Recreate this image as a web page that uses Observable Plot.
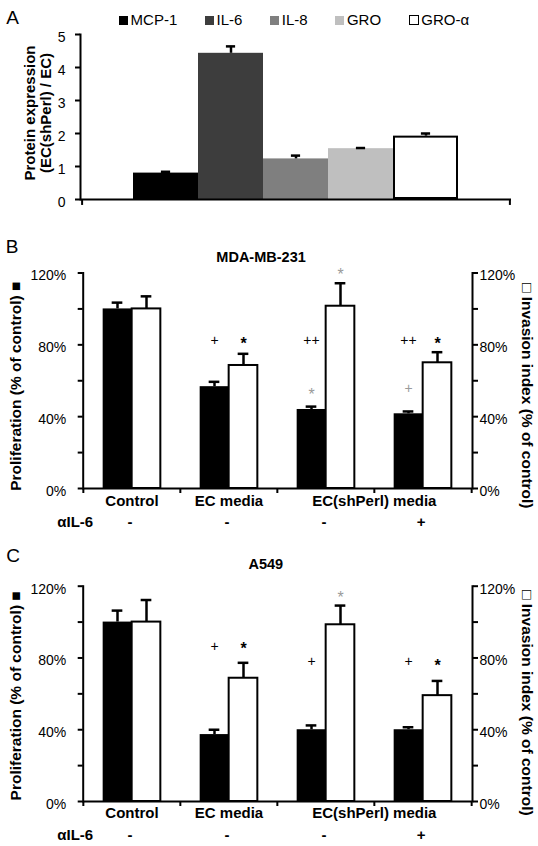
<!DOCTYPE html>
<html><head><meta charset="utf-8">
<script src="https://cdn.jsdelivr.net/npm/d3@7"></script>
<script src="https://cdn.jsdelivr.net/npm/@observablehq/plot@0.6"></script>
<style>
body{margin:0;background:#fff;}
#wrap{position:relative;width:538px;height:846px;background:#fff;font-family:'Liberation Sans',Arial,sans-serif;color:#000;overflow:hidden}
.panel{position:absolute;left:0}
#legend{position:absolute;left:118.8px;top:12px;height:16px;display:flex;align-items:center;gap:27.5px;font-size:15px;line-height:16px;white-space:nowrap}
.item{display:flex;align-items:center}
.sw{width:9px;height:9px;margin-right:2.8px;box-sizing:border-box}
</style></head><body><div id="wrap"></div>
<script>
// ---------- Panel A data ----------
const genes = ["MCP-1", "IL-6", "IL-8", "GRO", "GRO-α"];
const geneExpr = [0.80, 4.43, 1.23, 1.54, 1.92];
const geneErr = [0.04, 0.21, 0.10, 0.02, 0.08];
const geneFill = ["#000000", "#3d3d3d", "#7f7f7f", "#bfbfbf", "#ffffff"];
const yTicksA = [0, 1, 2, 3, 4, 5];

// ---------- Panels B & C shared ----------
const conditions = ["Control", "EC media", "EC(shPerl) media", "EC(shPerl) media + αIL-6"];
const conditionLabels = ["Control", "EC media", "EC(shPerl) media"];
const antiIL6 = ["-", "-", "-", "+"];
const pctTicks = [0, 20, 40, 60, 80, 100, 120];

// Panel B: MDA-MB-231
const prolifB = [100, 56.7, 44.0, 41.6];
const prolifErrB = [3.5, 2.7, 1.6, 1.3];
const invB = [100, 68.5, 101.5, 70.0];
const invErrB = [7.0, 6.5, 12.8, 5.9];
const markCondB = [1, 1, 2, 2, 2, 3, 3, 3];
const markBarB = ["P", "I", "P", "I", "P", "P", "I", "P"];
const markTextB = ["+", "*", "++", "*", "*", "++", "*", "+"];
const markYB = [82.2, 83, 82.4, 121, 54.2, 82.4, 83, 55.5];
const markToneB = ["k", "k", "k", "g", "g", "k", "k", "g"];

// Panel C: A549
const prolifC = [100, 37.3, 40.0, 40.0];
const prolifErrC = [6.4, 2.7, 2.4, 1.4];
const invC = [100, 68.7, 98.5, 59.0];
const invErrC = [12.3, 8.6, 10.7, 8.2];
const markCondC = [1, 1, 2, 2, 3, 3];
const markBarC = ["P", "I", "P", "I", "P", "I"];
const markTextC = ["+", "*", "+", "*", "+", "*"];
const markYC = [86.6, 87.5, 78, 115.8, 78, 78];
const markToneC = ["k", "k", "k", "g", "k", "k"];

const W = 538;
const FONT = "'Liberation Sans', Arial, sans-serif";
const baseStyle = {fontFamily: FONT, fontSize: "14px", color: "#000", background: "transparent", overflow: "visible"};
const GRAY = "#9a9a9a";
const wrap = document.getElementById("wrap");

function place(svg, top) {
  const d = document.createElement("div");
  d.className = "panel";
  d.style.top = top + "px";
  d.appendChild(svg);
  wrap.appendChild(d);
}

// ---------- Panel A ----------
{
  const ml = 80, mr = 27, pad = 0.775;
  const step = (W - ml - mr) / (genes.length + 2 * pad);
  const rows = genes.map((g, i) => ({gene: g, v: geneExpr[i], e: geneErr[i]}));
  const svgA = Plot.plot({
    width: W, height: 215, marginLeft: ml, marginRight: mr, marginTop: 34, marginBottom: 16,
    style: baseStyle,
    x: {domain: genes, paddingInner: 0, paddingOuter: pad, axis: null},
    y: {domain: [0, 5], axis: null},
    color: {domain: genes, range: geneFill},
    marks: [
      Plot.barY(rows, {x: "gene", y: "v", fill: "gene"}),
      Plot.barY(rows.filter(d => d.gene === "GRO-α"), {x: "gene", y: "v", fill: "none", stroke: "#000", strokeWidth: 2, inset: 1}),
      Plot.ruleX(rows, {x: "gene", y1: "v", y2: d => d.v + d.e, strokeWidth: 2.5}),
      Plot.tickY(rows, {x: "gene", y: d => d.v + d.e, inset: step / 2 - 5, strokeWidth: 2.5}),
      Plot.frame({anchor: "left", strokeWidth: 2}),
      Plot.ruleY([0], {strokeWidth: 2}),
      Plot.ruleX([genes[0]], {x: d => d, dx: -(0.5 + pad) * step, y1: 0, y2: -0.18, strokeWidth: 2}),
      Plot.ruleX([genes[genes.length - 1]], {x: d => d, dx: (0.5 + pad) * step, y1: 0, y2: -0.18, strokeWidth: 2}),
      Plot.axisY({ticks: yTicksA, tickSize: 5, strokeWidth: 2, fill: "none", label: null}),
      Plot.axisY({ticks: yTicksA, tickSize: 5, tickPadding: 10, stroke: "none", dy: 3, fontSize: 14, label: null, tickFormat: d => String(d)}),
      Plot.text(["Protein expression\n(EC(shPerl) / EC)"], {text: d => d, frameAnchor: "left", rotate: -90, textAnchor: "middle", lineAnchor: "middle", lineHeight: 1.1, dx: -43, dy: -4, fontWeight: "bold", fontSize: 15}),
      Plot.text(["A"], {text: d => d, frameAnchor: "top-left", textAnchor: "middle", lineAnchor: "middle", dx: -68, dy: -16.5, fontSize: 19})
    ]
  });
  place(svgA, 0);

  // legend built from the same arrays
  const lg = document.createElement("div");
  lg.id = "legend";
  genes.forEach((g, i) => {
    const it = document.createElement("div");
    it.className = "item";
    const sw = document.createElement("span");
    sw.className = "sw";
    sw.style.background = geneFill[i];
    if (geneFill[i] === "#ffffff") { sw.style.border = "1.6px solid #000"; sw.style.width = "10px"; sw.style.height = "10px"; }
    const tx = document.createElement("span");
    tx.textContent = g;
    it.appendChild(sw); it.appendChild(tx);
    lg.appendChild(it);
  });
  wrap.appendChild(lg);
}

// ---------- Panels B & C ----------
function groupedPanel(cfg) {
  const ml = 82.7, mr = 66;
  const band = (W - ml - mr) / conditions.length;
  const half = band / 2, barW = 29, cap = 5.5;
  const rows = conditions.map((c, i) => ({c, p: cfg.prolif[i], pe: cfg.prolifErr[i], v: cfg.inv[i], ve: cfg.invErr[i]}));
  const ann = cfg.mCond.map((k, i) => ({c: conditions[k], side: cfg.mBar[i], t: cfg.mText[i], y: cfg.mY[i], tone: cfg.mTone[i]}));
  const annMarks = ann.map(a => {
    const star = a.t === "*";
    return Plot.text([a], {
      x: "c", y: "y", text: "t",
      dx: (a.side === "P" ? -1 : 1) * barW / 2,
      dy: star ? 4 : 0,
      fill: a.tone === "g" ? GRAY : "#000",
      fontWeight: star && a.tone === "k" ? "bold" : "normal",
      fontSize: star ? 16 : 14,
      textAnchor: "middle", lineAnchor: "middle"
    });
  });
  const fmt = d => (d % 40 === 0 ? d + "%" : "");
  const svg = Plot.plot({
    width: W, height: cfg.height, marginLeft: ml, marginRight: mr, marginTop: cfg.mt, marginBottom: cfg.mb,
    style: baseStyle,
    x: {domain: conditions, padding: 0, axis: null},
    y: {domain: [0, 120], axis: null},
    marks: [
      Plot.barY(rows, {x: "c", y: "p", fill: "#000", insetLeft: half - barW, insetRight: half}),
      Plot.barY(rows, {x: "c", y: "v", fill: "#fff", stroke: "#000", strokeWidth: 2, insetLeft: half, insetRight: half - barW}),
      Plot.ruleX(rows, {x: "c", y1: "p", y2: d => d.p + d.pe, dx: -barW / 2, strokeWidth: 2.5}),
      Plot.tickY(rows, {x: "c", y: d => d.p + d.pe, insetLeft: half - barW / 2 - cap, insetRight: half + barW / 2 - cap, strokeWidth: 2.5}),
      Plot.ruleX(rows, {x: "c", y1: "v", y2: d => d.v + d.ve, dx: barW / 2, strokeWidth: 2.5}),
      Plot.tickY(rows, {x: "c", y: d => d.v + d.ve, insetLeft: half + barW / 2 - cap, insetRight: half - barW / 2 - cap, strokeWidth: 2.5}),
      Plot.frame({anchor: "left", strokeWidth: 2}),
      Plot.frame({anchor: "right", strokeWidth: 2}),
      Plot.ruleY([0], {strokeWidth: 2}),
      Plot.ruleX(conditions, {x: d => d, dx: -half, y1: 0, y2: -2.8, strokeWidth: 2}),
      Plot.ruleX([conditions[conditions.length - 1]], {x: d => d, dx: half, y1: 0, y2: -2.8, strokeWidth: 2}),
      Plot.axisY({anchor: "left", ticks: pctTicks, tickSize: 5, strokeWidth: 2, fill: "none", label: null}),
      Plot.axisY({anchor: "left", ticks: pctTicks, tickSize: 5, tickPadding: 12, stroke: "none", dy: 3, fontSize: 14, label: null, tickFormat: fmt}),
      Plot.axisY({anchor: "right", ticks: pctTicks, tickSize: 5, strokeWidth: 2, fill: "none", label: null}),
      Plot.axisY({anchor: "right", ticks: pctTicks, tickSize: 5, tickPadding: 2, stroke: "none", dy: 3, fontSize: 14, label: null, tickFormat: fmt}),
      ...annMarks,
      Plot.text(conditionLabels.slice(0, 2), {x: d => d, text: d => d, frameAnchor: "bottom", textAnchor: "middle", lineAnchor: "middle", dy: cfg.catDy, fontWeight: "bold", fontSize: 15}),
      Plot.text([conditionLabels[2]], {x: () => conditions[3], text: d => d, dx: -half, frameAnchor: "bottom", textAnchor: "middle", lineAnchor: "middle", dy: cfg.catDy, fontWeight: "bold", fontSize: 15}),
      Plot.text(conditions, {x: d => d, text: (d, i) => antiIL6[i], frameAnchor: "bottom", textAnchor: "middle", lineAnchor: "middle", dx: -2, dy: cfg.rowDy, fontWeight: "bold", fontSize: 15}),
      Plot.text(["αIL-6"], {text: d => d, frameAnchor: "bottom-left", textAnchor: "end", lineAnchor: "middle", dx: 10, dy: cfg.rowDy, fontWeight: "bold", fontSize: 15}),
      Plot.text(["Proliferation (% of control) ■"], {text: d => d, frameAnchor: "left", rotate: -90, textAnchor: "middle", lineAnchor: "middle", dx: -67.2, dy: cfg.lDy, fontWeight: "bold", fontSize: 15.5}),
      Plot.text(["□ Invasion index (% of control)"], {text: d => d, frameAnchor: "right", rotate: 90, textAnchor: "middle", lineAnchor: "middle", dx: 54.5, dy: cfg.rDy, fontWeight: "bold", fontSize: 15.5}),
      Plot.text([cfg.title], {text: d => d, frameAnchor: "top", textAnchor: "middle", lineAnchor: "middle", dx: cfg.titleDx, dy: cfg.titleDy, fontWeight: "bold", fontSize: 14.5}),
      Plot.text([cfg.letter], {text: d => d, frameAnchor: "top-left", textAnchor: "middle", lineAnchor: "middle", dx: cfg.letterDx, dy: cfg.letterDy, fontSize: 19})
    ]
  });
  place(svg, cfg.top);
}

groupedPanel({
  top: 220, height: 310, mt: 52.5, mb: 42,
  title: "MDA-MB-231", titleDx: -16.8, titleDy: -15.8, letter: "B", letterDx: -71, letterDy: -25.8,
  prolif: prolifB, prolifErr: prolifErrB, inv: invB, invErr: invErrB,
  mCond: markCondB, mBar: markBarB, mText: markTextB, mY: markYB, mTone: markToneB,
  catDy: 13, rowDy: 34, lDy: 5.5, rDy: 15
});
groupedPanel({
  top: 530, height: 316, mt: 55.7, mb: 45,
  title: "A549", titleDx: -12, titleDy: -21.4, letter: "C", letterDx: -70.2, letterDy: -29.9,
  prolif: prolifC, prolifErr: prolifErrC, inv: invC, invErr: invErrC,
  mCond: markCondC, mBar: markBarC, mText: markTextC, mY: markYC, mTone: markToneC,
  catDy: 12, rowDy: 34, lDy: 2, rDy: 9
});
</script></body></html>
